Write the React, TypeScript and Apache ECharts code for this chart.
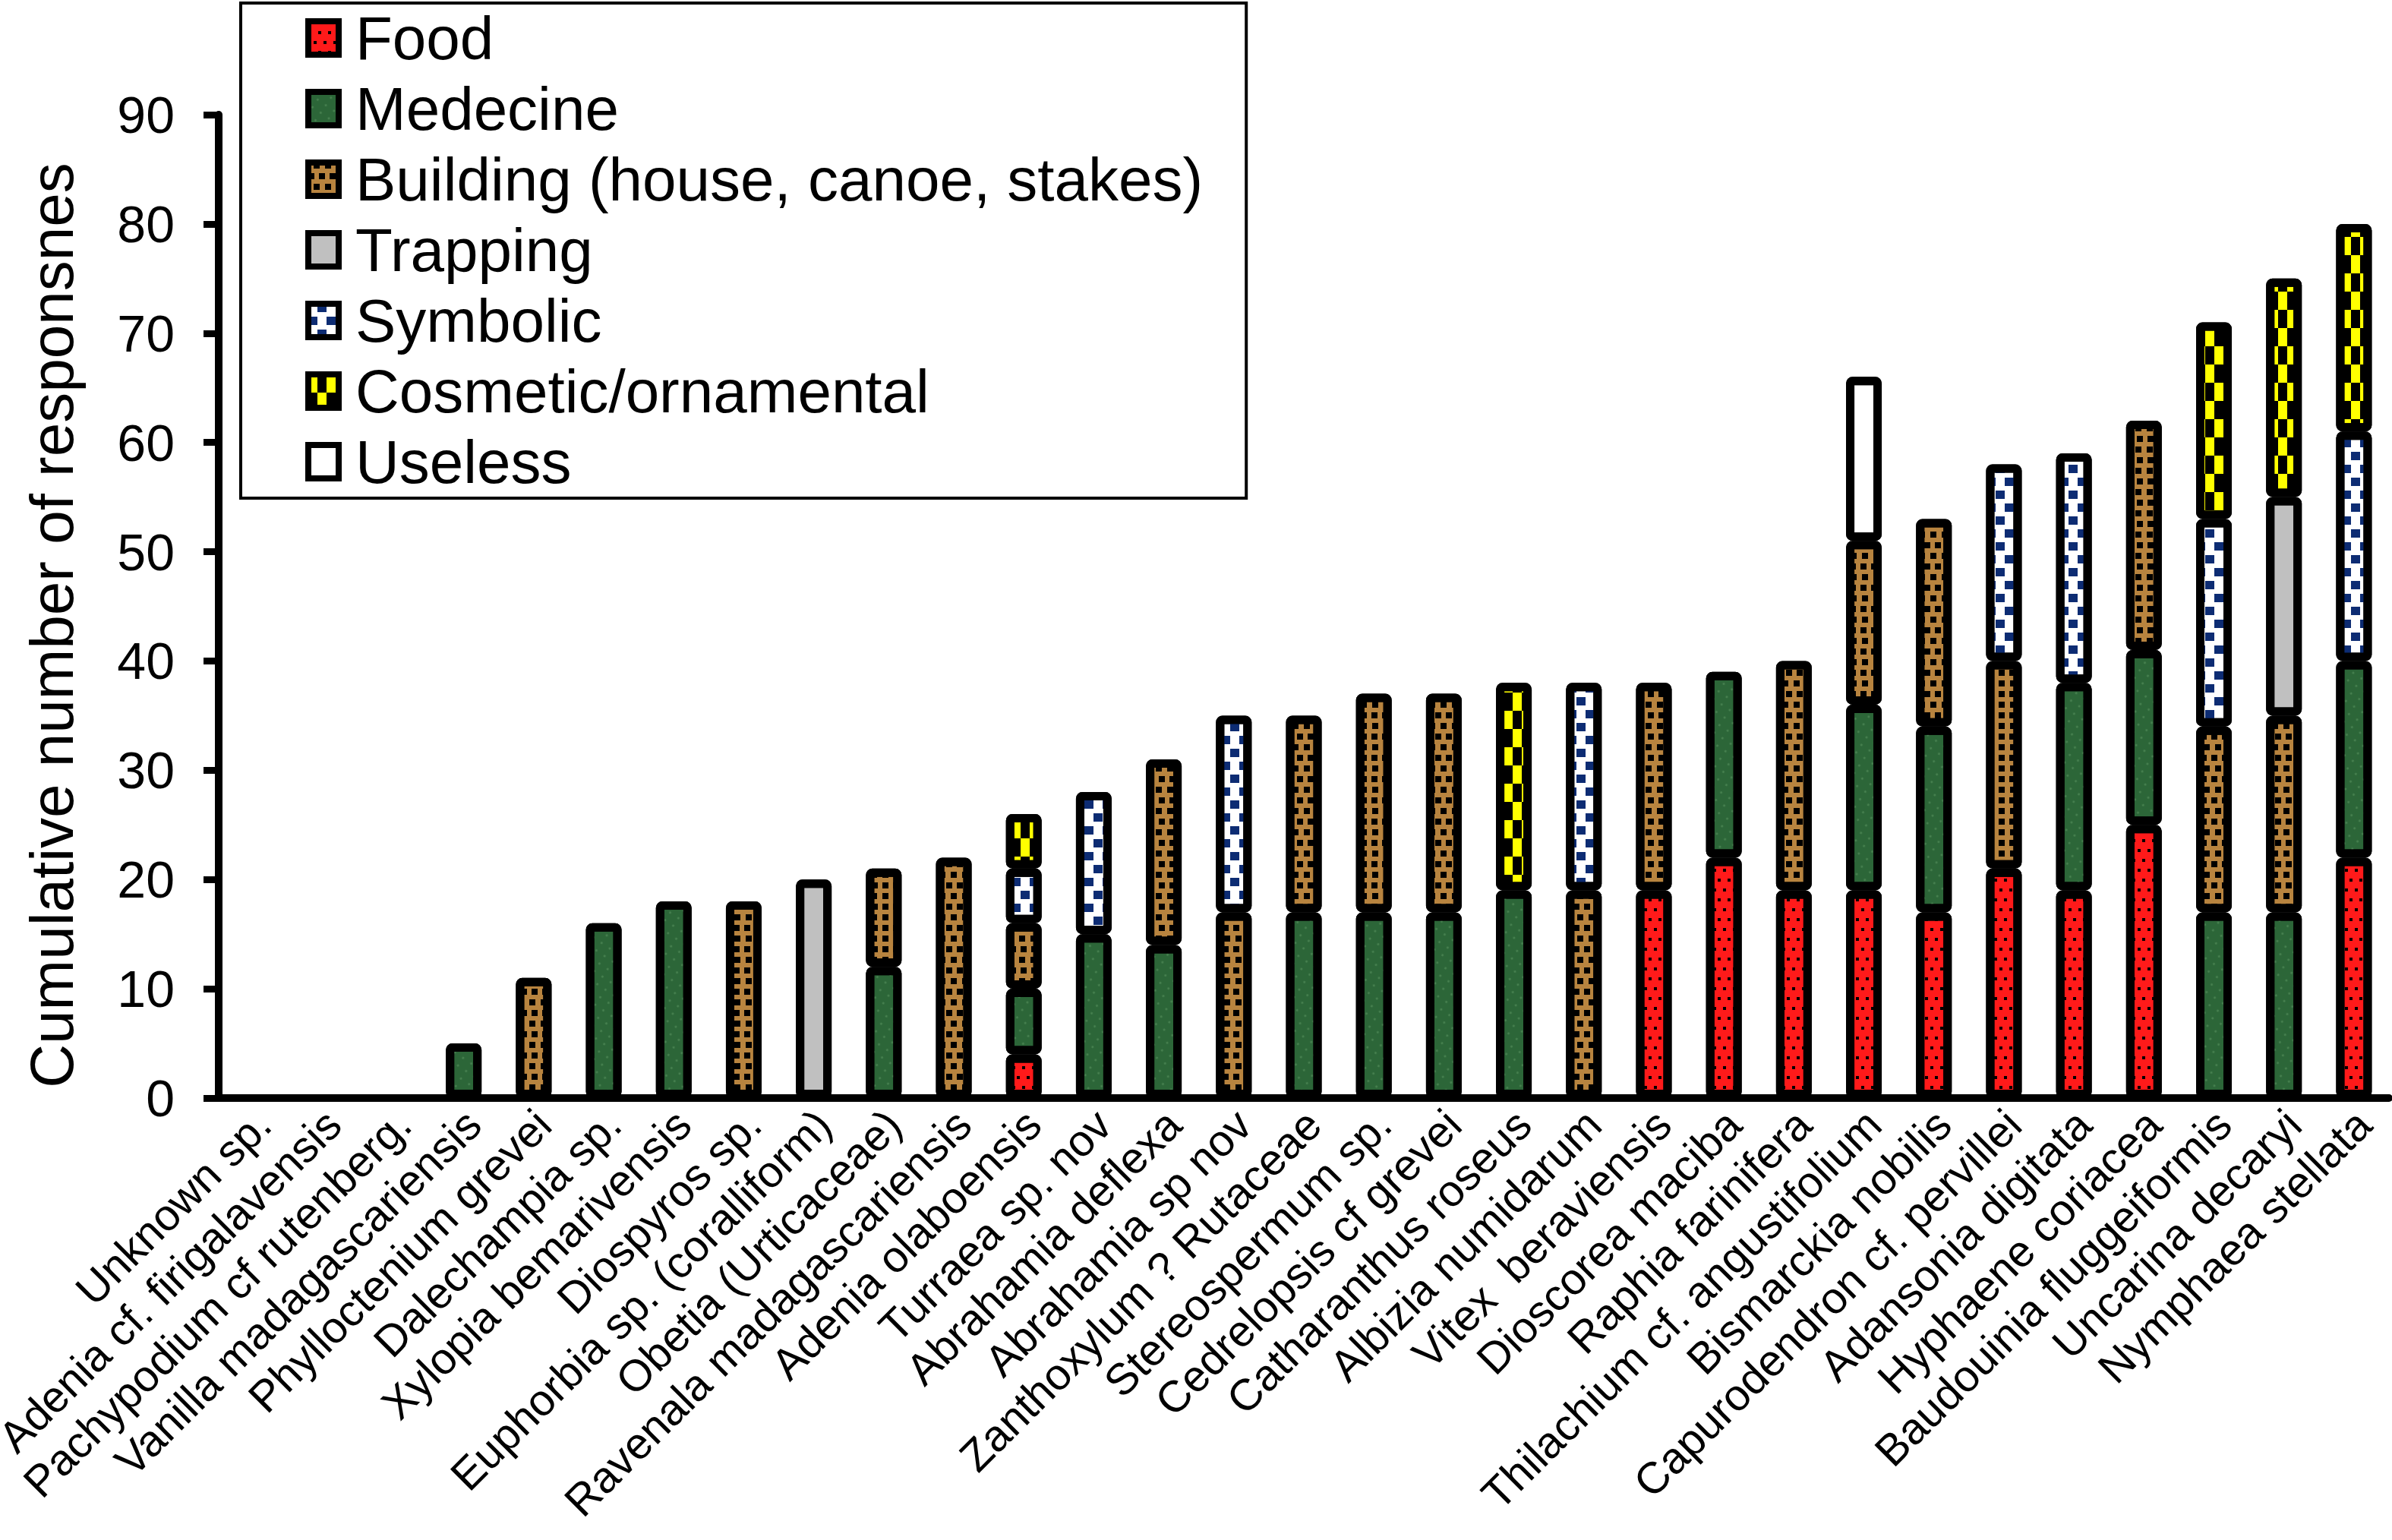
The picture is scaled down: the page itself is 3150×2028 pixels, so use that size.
import React, { useEffect, useRef } from "react";
import * as echarts from "echarts";

const categories = [
  "Unknown sp.",
  "Adenia cf. firigalavensis",
  "Pachypodium cf rutenberg.",
  "Vanilla madagascariensis",
  "Phylloctenium grevei",
  "Dalechampia sp.",
  "Xylopia bemarivensis",
  "Diospyros sp.",
  "Euphorbia sp. (coralliform)",
  "Obetia (Urticaceae)",
  "Ravenala madagascariensis",
  "Adenia olaboensis",
  "Turraea sp. nov",
  "Abrahamia deflexa",
  "Abrahamia sp nov",
  "Zanthoxylum ? Rutaceae",
  "Stereospermum sp.",
  "Cedrelopsis cf grevei",
  "Catharanthus roseus",
  "Albizia numidarum",
  "Vitex  beraviensis",
  "Dioscorea maciba",
  "Raphia farinifera",
  "Thilachium cf. angustifolium",
  "Bismarckia nobilis",
  "Capurodendron cf. pervillei",
  "Adansonia digitata",
  "Hyphaene coriacea",
  "Baudouinia fluggeiformis",
  "Uncarina decaryi",
  "Nymphaea stellata",
];

const N = null;
const food = [N, N, N, N, N, N, N, N, N, N, N, 4, N, N, N, N, N, N, N, N, 19, 22, 19, 19, 17, 21, 19, 25, N, N, 22];
const medecine = [N, N, N, 5, N, 16, 18, N, N, 12, N, 6, 15, 14, N, 17, 17, 17, 19, N, N, 17, N, 17, 17, N, 19, 16, 17, 17, 18];
const building = [N, N, N, N, 11, N, N, 18, N, 9, 22, 6, N, 17, 17, 18, 20, 20, N, 19, 19, N, 21, 15, 19, 19, N, 21, 17, 18, N];
const trapping = [N, N, N, N, N, N, N, N, 20, N, N, N, N, N, N, N, N, N, N, N, N, N, N, N, N, N, N, N, N, 20, N];
const symbolic = [N, N, N, N, N, N, N, N, N, N, N, 5, 13, N, 18, N, N, N, N, 19, N, N, N, N, N, 18, 21, N, 19, N, 21];
const cosmetic = [N, N, N, N, N, N, N, N, N, N, N, 5, N, N, N, N, N, N, 19, N, N, N, N, N, N, N, N, N, 18, 20, 19];
const useless = [N, N, N, N, N, N, N, N, N, N, N, N, N, N, N, N, N, N, N, N, N, N, N, 15, N, N, N, N, N, N, N];

const yTicks = [0, 10, 20, 30, 40, 50, 60, 70, 80, 90];

const FONT = '"Liberation Sans", Arial, Helvetica, sans-serif';

const seriesDefs = [
  {
    name: "Food",
    data: food,
    color: "#ff1a1a",
    decal: { symbol: "rect", color: "#000", dashArrayX: [[4, 9], [0, 7, 4, 2]], dashArrayY: [4, 9], symbolSize: 1, symbolKeepAspect: false },
  },
  {
    name: "Medecine",
    data: medecine,
    color: "#2c6638",
    decal: { symbol: "circle", color: "rgba(140,195,140,0.28)", dashArrayX: [6, 7], dashArrayY: [3, 9], symbolSize: 1, rotation: 0.6, symbolKeepAspect: false },
  },
  {
    name: "Building (house, canoe, stakes)",
    data: building,
    color: "#b8843f",
    decal: { symbol: "rect", color: "#000", dashArrayX: [[8, 6], [0, 7, 8, 0]], dashArrayY: [8, 6], symbolSize: 1, symbolKeepAspect: false },
  },
  {
    name: "Trapping",
    data: trapping,
    color: "#c0c0c0",
    decal: "none",
  },
  {
    name: "Symbolic",
    data: symbolic,
    color: "#ffffff",
    decal: { symbol: "rect", color: "#0d2c73", dashArrayX: [[12, 12], [0, 12, 12, 0]], dashArrayY: [11, 6], symbolSize: 1, symbolKeepAspect: false },
  },
  {
    name: "Cosmetic/ornamental",
    data: cosmetic,
    color: "#ffff00",
    decal: { symbol: "rect", color: "#000", dashArrayX: [[12, 12], [0, 12, 12, 0]], dashArrayY: [24, 0], symbolSize: 1, symbolKeepAspect: false },
  },
  {
    name: "Useless",
    data: useless,
    color: "#ffffff",
    decal: "none",
  },
];

export default function App() {
  const ref = useRef<HTMLDivElement>(null);

  useEffect(() => {
    document.body.style.margin = "0";
    document.body.style.overflow = "hidden";
    if (!ref.current) return;
    const chart = echarts.init(ref.current, null, { renderer: "svg" });

    const series = seriesDefs.map((s) => ({
      name: s.name,
      type: "bar",
      stack: "total",
      barWidth: 47,
      data: s.data,
      itemStyle: {
        color: s.color,
        borderColor: "#000",
        borderWidth: 11,
        borderRadius: 3,
        decal: s.decal === "none" ? { symbol: "none" } : s.decal,
      },
      emphasis: { disabled: true },
    }));

    chart.setOption({
      animation: false,
      backgroundColor: "#ffffff",
      aria: { enabled: false, decal: { show: true } },
      grid: {
        left: 288,
        top: 151,
        width: 2858,
        bottom: 582,
        containLabel: false,
        outerBoundsMode: "none",
      },
      legend: {
        orient: "vertical",
        left: 317,
        top: 4,
        padding: [6, 57, 8, 85],
        itemGap: 13,
        itemWidth: 40,
        itemHeight: 44,
        icon: "rect",
        backgroundColor: "#fff",
        borderColor: "#000",
        borderWidth: 4,
        borderRadius: 0,
        selectedMode: false,
        itemStyle: { borderColor: "#000", borderWidth: 8 },
        textStyle: { fontSize: 80, lineHeight: 80, color: "#000", fontFamily: FONT, padding: [0, 0, 0, 17] },
        data: seriesDefs.map((s) => s.name),
      },
      xAxis: {
        type: "category",
        data: categories,
        axisLine: { show: true, lineStyle: { color: "#000", width: 10 } },
        axisTick: { show: false },
        axisLabel: {
          interval: 0,
          rotate: 45,
          fontSize: 58,
          color: "#000",
          fontFamily: FONT,
          margin: 38,
          padding: [0, -18, 0, 0],
        },
      },
      yAxis: {
        type: "value",
        min: yTicks[0],
        max: yTicks[yTicks.length - 1],
        interval: 10,
        name: "Cumulative number of responsnes",
        nameLocation: "middle",
        nameRotate: 90,
        nameGap: 180,
        nameTextStyle: { fontSize: 80, color: "#000", fontFamily: FONT, padding: [0, 50, 0, 0] },
        axisLine: { show: true, lineStyle: { color: "#000", width: 10 } },
        axisTick: { show: true, inside: false, length: 20, lineStyle: { color: "#000", width: 9 } },
        axisLabel: { fontSize: 68, color: "#000", fontFamily: FONT, margin: 58 },
        splitLine: { show: false },
      },
      series,
    });

    return () => {
      chart.dispose();
    };
  }, []);

  return <div ref={ref} style={{ width: 3150, height: 2028 }} />;
}
